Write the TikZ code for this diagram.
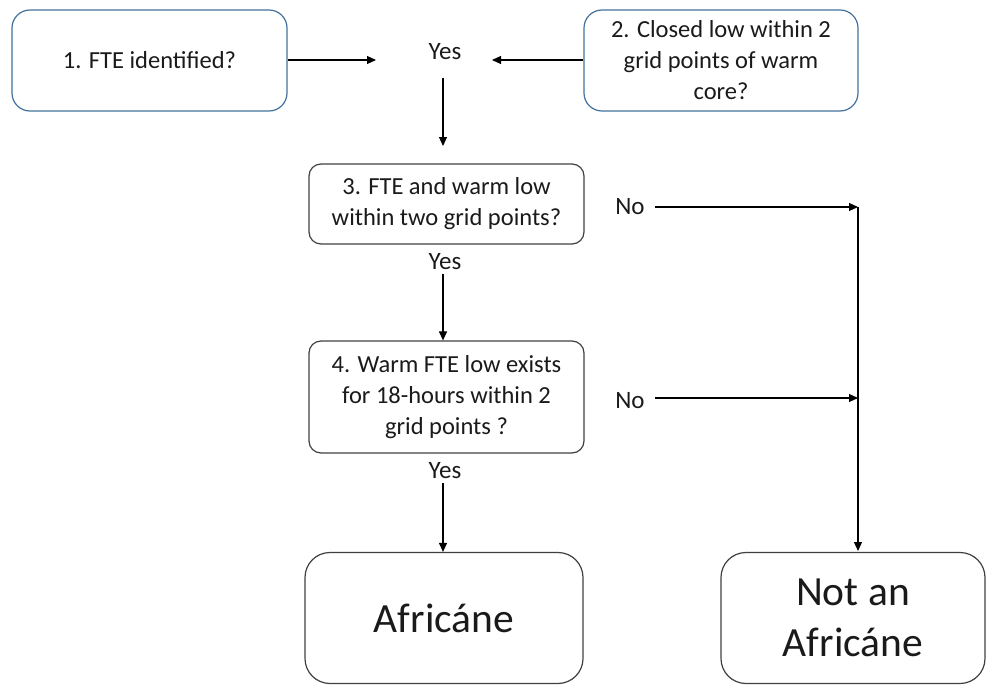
\documentclass[tikz,border=0pt]{standalone}
\usepackage{fontspec}
\setmainfont{Carlito}
\usetikzlibrary{arrows.meta}
\definecolor{bluebd}{HTML}{41719C}
\definecolor{graybd}{HTML}{404040}
\definecolor{txt}{HTML}{1A1A1A}
\begin{document}
\begin{tikzpicture}[x=1pt,y=-1pt,
  box/.style={draw=graybd,text=txt,line width=1.2pt,rounded corners=12pt,align=center,inner sep=0pt,font=\fontsize{24.5}{31}\selectfont},
  bbox/.style={box,draw=bluebd,rounded corners=18pt},
  bigbox/.style={box,rounded corners=25pt,font=\fontsize{41.5}{51}\selectfont},
  lbl/.style={inner sep=0pt,text=txt,font=\fontsize{25}{30}\selectfont},
  arr/.style={line width=1.1pt,-{Triangle[length=9pt,width=8pt]}},
  ln/.style={line width=1.1pt}]
\useasboundingbox (0,0) rectangle (986,685);
\node[bbox,minimum width=275pt,minimum height=101pt] (b1) at (149.5,60.5) {1. FTE identified?};
\node[bbox,minimum width=274pt,minimum height=101pt] (b2) at (721,60.5) {2. Closed low within 2\\grid points of warm\\core?};
\node[lbl] (y1) at (445,52) {Yes};
\node[box,minimum width=275pt,minimum height=80pt] (b3) at (446.5,204) {3. FTE and warm low\\within two grid points?};
\node[lbl] (n1) at (630,207) {No};
\node[lbl] (y2) at (445,262) {Yes};
\node[box,minimum width=275pt,minimum height=112pt] (b4) at (446.5,397) {4. Warm FTE low exists\\for 18-hours within 2\\grid points ?};
\node[lbl] (n2) at (630,401) {No};
\node[lbl] (y3) at (445,471) {Yes};
\node[bigbox,minimum width=278pt,minimum height=131pt] (b5) at (444,618) {Africáne};
\node[bigbox,minimum width=264pt,minimum height=131pt] (b6) at (853,618) {Not an\\Africáne};
\coordinate (c1) at (376,60);
\coordinate (c2) at (492,60);
\coordinate (c3) at (443,78);
\coordinate (c4) at (443,146);
\coordinate (c5) at (655,207);
\coordinate (c6) at (858,207);
\coordinate (c7) at (655,398);
\coordinate (c8) at (858,398);
\coordinate (c9) at (858,551);
\coordinate (c10) at (443,274);
\coordinate (c11) at (443,483);
\draw[arr] (b1.east |- c1) -- (c1);
\draw[arr] (b2.west |- c2) -- (c2);
\draw[arr] (c3) -- (c4);
\draw[arr] (c10) -- (b4.north -| c10);
\draw[arr] (c11) -- (b5.north -| c11);
\draw[arr] (c5) -- (c6);
\draw[arr] (c7) -- (c8);
\draw[ln] (c6) -- (c8);
\draw[arr] (c8) -- (c9);
\end{tikzpicture}
\end{document}
